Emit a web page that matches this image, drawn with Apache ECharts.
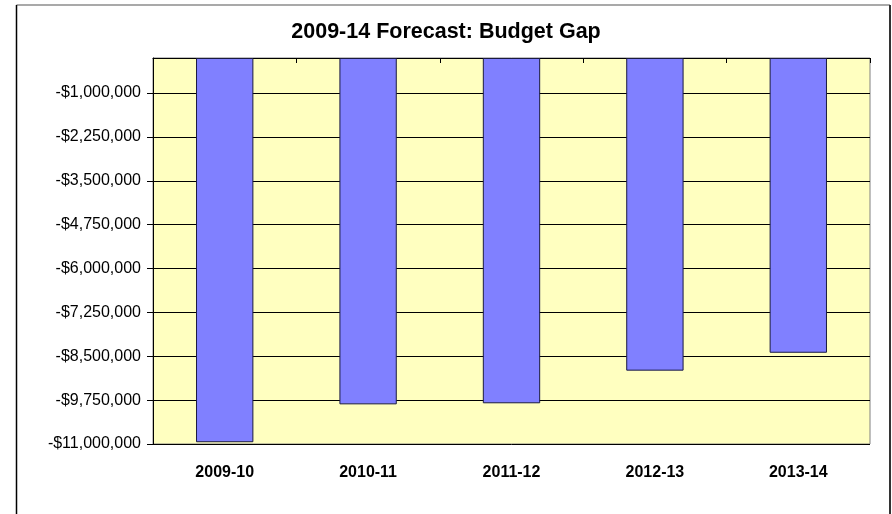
<!DOCTYPE html>
<html>
<head>
<meta charset="utf-8">
<title>2009-14 Forecast: Budget Gap</title>
<script src="https://cdn.jsdelivr.net/npm/echarts@6/dist/echarts.min.js"></script>
<style>
  html, body { margin: 0; padding: 0; background: #ffffff; }
  #chart { width: 892px; height: 514px; }
</style>
</head>
<body>
<div id="chart"></div>
<script>
// Fiscal years on the category axis
const years = ['2009-10', '2010-11', '2011-12', '2012-13', '2013-14'];

// Projected budget gap per year (dollars)
const budgetGap = [-10950000, -9870000, -9840000, -8910000, -8400000];

// Value-axis range and step; ticks start at the minimum
const axisMin = -11000000;
const axisMax = 0;
const axisStep = 1250000;

function money(v) {
  const s = Math.abs(v).toLocaleString('en-US');
  return (v < 0 ? '-$' : '$') + s;
}

const chart = echarts.init(document.getElementById('chart'), null, { renderer: 'canvas' });

chart.setOption({
  animation: false,
  backgroundColor: '#ffffff',
  title: {
    text: '2009-14 Forecast: Budget Gap',
    left: 'center',
    top: 16,
    textStyle: {
      fontFamily: 'Liberation Sans, Arial, sans-serif',
      fontWeight: 'bold',
      fontSize: 21.5,
      color: '#000000'
    }
  },
  grid: {
    left: 153,
    right: 22,
    top: 58,
    bottom: 70,
    show: true,
    backgroundColor: '#FFFFC0',
    borderColor: '#808080',
    borderWidth: 1
  },
  xAxis: [
    {
      type: 'category',
      data: years,
      position: 'bottom',
      axisLine: { show: false },
      axisTick: { show: false },
      axisLabel: {
        margin: 21,
        fontFamily: 'Liberation Sans, Arial, sans-serif',
        fontWeight: 'bold',
        fontSize: 16,
        color: '#000000'
      }
    },
    {
      type: 'category',
      data: years,
      position: 'top',
      axisLine: { show: true, lineStyle: { color: '#000000', width: 1 } },
      axisTick: { show: true, inside: true, length: 5, lineStyle: { color: '#000000' } },
      axisLabel: { show: false }
    }
  ],
  yAxis: {
    type: 'value',
    min: axisMin,
    max: axisMax,
    interval: axisStep,
    axisLine: { show: true, lineStyle: { color: '#000000', width: 1 } },
    axisTick: { show: true, length: 6, lineStyle: { color: '#000000' } },
    splitLine: { show: true, lineStyle: { color: '#000000', width: 1 } },
    axisLabel: {
      margin: 12,
      showMaxLabel: false,
      fontFamily: 'Liberation Sans, Arial, sans-serif',
      fontSize: 16,
      color: '#000000',
      formatter: function (v) { return v === 0 ? '' : money(v); }
    }
  },
  series: [
    {
      type: 'bar',
      xAxisIndex: 0,
      data: budgetGap,
      barWidth: '40%',
      itemStyle: {
        color: '#8080FF',
        borderColor: '#1a1a40',
        borderWidth: 1
      }
    }
  ],
  graphic: [
    { type: 'line', shape: { x1: 16.5, y1: 5, x2: 890, y2: 5 }, style: { stroke: '#8c8c8c', lineWidth: 1.5 } },
    { type: 'line', shape: { x1: 16.5, y1: 5, x2: 16.5, y2: 514 }, style: { stroke: '#000000', lineWidth: 1.5 } },
    { type: 'line', shape: { x1: 890, y1: 5, x2: 890, y2: 514 }, style: { stroke: '#333333', lineWidth: 2 } }
  ]
});
</script>
</body>
</html>
